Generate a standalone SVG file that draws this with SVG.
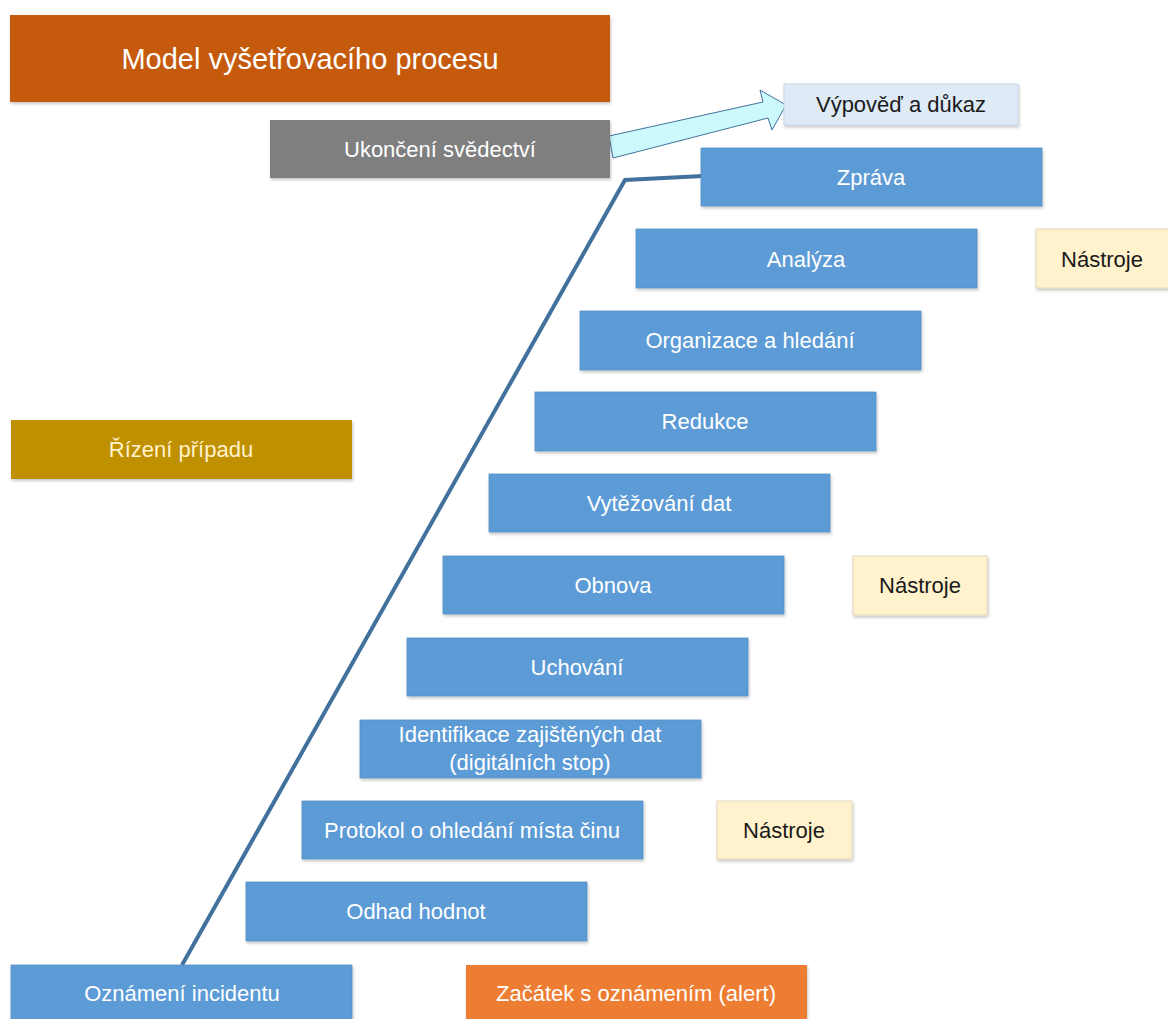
<svg xmlns="http://www.w3.org/2000/svg" width="1168" height="1019" viewBox="0 0 1168 1019">
  <defs>
    <filter id="shadow" x="-5%" y="-10%" width="110%" height="130%">
      <feDropShadow dx="1" dy="2" stdDeviation="1.5" flood-color="#000" flood-opacity="0.22"/>
    </filter>
    <style>
      text { font-family: "Liberation Sans", Arial, sans-serif; font-size: 22px; text-anchor: middle; }
      .w { fill: #ffffff; }
      .k { fill: #1a1a1a; }
      .step { fill: #5B9BD5; stroke: #5A8FC4; stroke-width: 0.8; filter: url(#shadow); }
      .tool { fill: #FFF2CC; stroke: #E2D8BC; stroke-width: 1; filter: url(#shadow); }
      .flow { fill: none; stroke: #41719C; stroke-width: 4; stroke-linejoin: miter; }
    </style>
  </defs>
  <rect width="1168" height="1019" fill="#ffffff"/>

  <g id="title">
    <rect x="10" y="15" width="600" height="87" fill="#C55A11" filter="url(#shadow)"/>
    <text x="310" y="69" class="w" style="font-size:29px">Model vyšetřovacího procesu</text>
  </g>

  <g id="connectors">
    <polyline class="flow" points="182,965 625,180 703,176"/>
    <polygon points="609,136 763,102 760,90 786,105 772,130 768,118 613,158" fill="#CCFAFC" stroke="#41719C" stroke-width="1"/>
  </g>

  <g id="ukonceni">
    <rect x="270" y="120" width="340" height="58" fill="#7F7F7F" filter="url(#shadow)"/>
    <text x="440" y="157" class="w">Ukončení svědectví</text>
  </g>

  <g id="vypoved">
    <rect x="784" y="84" width="234" height="41" fill="#DEEBF7" stroke="#C5D5E8" stroke-width="1" filter="url(#shadow)"/>
    <text x="901" y="112" class="k">Výpověď a důkaz</text>
  </g>

  <g id="zprava">
    <rect class="step" x="701" y="148" width="341" height="58"/>
    <text x="871" y="185" class="w">Zpráva</text>
  </g>

  <g id="analyza">
    <rect class="step" x="636" y="229" width="341" height="59"/>
    <text x="806" y="267" class="w">Analýza</text>
  </g>

  <g id="nastroje-1">
    <rect class="tool" x="1036" y="229" width="140" height="59"/>
    <text x="1102" y="267" class="k">Nástroje</text>
  </g>

  <g id="organizace">
    <rect class="step" x="580" y="311" width="341" height="59"/>
    <text x="750" y="348" class="w">Organizace a hledání</text>
  </g>

  <g id="redukce">
    <rect class="step" x="535" y="392" width="341" height="59"/>
    <text x="705" y="429" class="w">Redukce</text>
  </g>

  <g id="rizeni">
    <rect x="11" y="420" width="341" height="59" fill="#BF9000" filter="url(#shadow)"/>
    <text x="181" y="457" class="w" style="fill:#FFF2CC">Řízení případu</text>
  </g>

  <g id="vytezovani">
    <rect class="step" x="489" y="474" width="341" height="58"/>
    <text x="659" y="511" class="w">Vytěžování dat</text>
  </g>

  <g id="obnova">
    <rect class="step" x="443" y="556" width="341" height="58"/>
    <text x="613" y="593" class="w">Obnova</text>
  </g>

  <g id="nastroje-2">
    <rect class="tool" x="853" y="556" width="134" height="59"/>
    <text x="920" y="593" class="k">Nástroje</text>
  </g>

  <g id="uchovani">
    <rect class="step" x="407" y="638" width="341" height="58"/>
    <text x="577" y="675" class="w">Uchování</text>
  </g>

  <g id="identifikace">
    <rect class="step" x="360" y="720" width="341" height="58"/>
    <text x="530" y="742" class="w">Identifikace zajištěných dat</text>
    <text x="530" y="770" class="w">(digitálních stop)</text>
  </g>

  <g id="protokol">
    <rect class="step" x="302" y="801" width="341" height="58"/>
    <text x="472" y="838" class="w">Protokol o ohledání místa činu</text>
  </g>

  <g id="nastroje-3">
    <rect class="tool" x="717" y="801" width="135" height="58"/>
    <text x="784" y="838" class="k">Nástroje</text>
  </g>

  <g id="odhad">
    <rect class="step" x="246" y="882" width="341" height="59"/>
    <text x="416" y="919" class="w">Odhad hodnot</text>
  </g>

  <g id="oznameni">
    <rect class="step" x="11" y="965" width="341" height="60"/>
    <text x="182" y="1001" class="w">Oznámení incidentu</text>
  </g>

  <g id="zacatek">
    <rect x="466" y="965" width="341" height="60" fill="#ED7D31" filter="url(#shadow)"/>
    <text x="636" y="1001" class="w">Začátek s oznámením (alert)</text>
  </g>
</svg>
